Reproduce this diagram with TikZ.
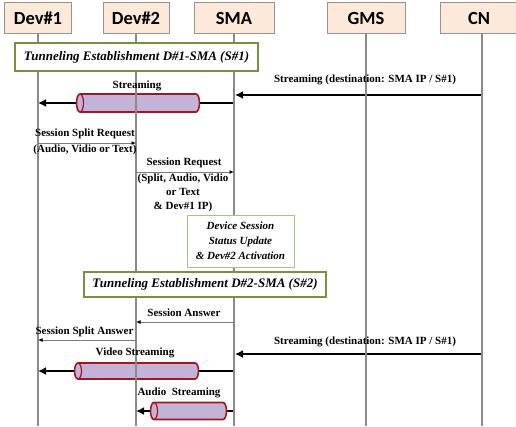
\documentclass[tikz,border=0pt]{standalone}
\usepackage{fontspec}
\setmainfont{Liberation Serif}
\newfontfamily\headfont{Carlito}
\usetikzlibrary{arrows.meta}

\definecolor{headfill}{HTML}{FDE9D9}
\definecolor{headdraw}{HTML}{9C918C}
\definecolor{tunnelgreen}{HTML}{76923C}
\definecolor{notegreen}{HTML}{A8C280}
\definecolor{pipefill}{HTML}{C4B3D8}
\definecolor{pipedraw}{HTML}{A3161B}
\definecolor{lifegray}{HTML}{8A8A8A}

\tikzset{
  header/.style={draw=headdraw, fill=headfill, line width=0.8pt,
    minimum height=31pt, inner sep=0pt,
    font=\headfont\fontsize{18.5}{20}\selectfont\bfseries},
  lifeline/.style={draw=lifegray, line width=1.1pt},
  tunnel/.style={draw=tunnelgreen, fill=white, line width=2pt, inner sep=0pt,
    font=\fontsize{13}{15}\selectfont\bfseries\itshape},
  note/.style={draw=notegreen, fill=white, line width=1pt, inner sep=0pt,
    align=center, font=\fontsize{11}{15}\selectfont\bfseries\itshape},
  msg/.style={font=\fontsize{11}{14}\selectfont\bfseries, inner sep=0pt, align=center},
  thinarrow/.style={draw=lifegray!90!black, line width=0.9pt,
    -{Latex[length=4.5pt,width=4pt,color=black]}},
  thickarrow/.style={draw=black, line width=2.4pt,
    -{Latex[length=8pt,width=8pt]}},
  pipe/.style={fill=pipefill, draw=pipedraw, line width=1.6pt},
}

% horizontal pipe: left x, right x, centre y, half height
\newcommand\pipebody[4]{%
  \filldraw[pipe] (#1,#3-#4) -- (#2,#3-#4)
    arc[start angle=-90,end angle=90,x radius=3.5,y radius=#4]
    -- (#1,#3+#4)
    arc[start angle=90,end angle=270,x radius=3.5,y radius=#4] -- cycle;
  \draw[pipedraw, line width=1.2pt] (#1,#3+#4)
    arc[start angle=90,end angle=-90,x radius=3.5,y radius=#4];
}

\begin{document}
\begin{tikzpicture}[x=1pt,y=-1pt]
\useasboundingbox (0,0) rectangle (516,426);

% participants
\node[header, minimum width=67pt] (dev1) at (38,18) {Dev\#1};
\node[header, minimum width=66pt] (dev2) at (136,18) {Dev\#2};
\node[header, minimum width=80pt] (sma)  at (234,18) {SMA};
\node[header, minimum width=78pt] (gms)  at (366,18) {GMS};
\node[header, minimum width=78pt] (cn)   at (479,18) {CN};

% lifeline feet
\coordinate (L1) at (38,426);
\coordinate (L2) at (136,426);
\coordinate (L3) at (234,426);
\coordinate (L4) at (366,426);
\coordinate (L5) at (482,426);

% streaming to Dev#1 over tunnel S#1
\draw[thickarrow] (L3 |- 0,103) -- (L1 |- 0,103);
\pipebody{80}{196}{103}{9}
\draw[thickarrow] (L5 |- 0,95) -- ([xshift=1pt]L3 |- 0,95);

% video and audio streaming after the split
\draw[thickarrow] (L3 |- 0,371) -- (L1 |- 0,371);
\pipebody{78}{195}{371}{8}
\draw[thickarrow] (L3 |- 0,411) -- (L2 |- 0,411);
\pipebody{154}{223}{411}{8.5}
\draw[thickarrow] (L5 |- 0,354) -- ([xshift=1pt]L3 |- 0,354);

% lifelines
\draw[lifeline] (L1 |- dev1.south) -- (L1);
\draw[lifeline] (L2 |- dev2.south) -- (L2);
\draw[lifeline] (L3 |- sma.south) -- (L3);
\draw[lifeline] (L4 |- gms.south) -- (L4);
\draw[lifeline] (L5 |- cn.south) -- (L5);

% signalling messages
\draw[thinarrow] (L1 |- 0,143) -- (L2 |- 0,143);
\draw[thinarrow] (L2 |- 0,172) -- (L3 |- 0,172);
\draw[thinarrow] (L3 |- 0,322) -- (L2 |- 0,322);
\draw[thinarrow] (L2 |- 0,340) -- (L1 |- 0,340);

% tunnels and processing note
\node[tunnel, minimum width=243pt, minimum height=28pt] (t1) at (136.5,57)
  {Tunneling Establishment D\#1-SMA (S\#1)};
\node[note, minimum width=107pt, minimum height=52pt] (upd) at (240.5,241)
  {Device Session\\Status Update\\\& Dev\#2 Activation};
\node[tunnel, minimum width=242pt, minimum height=25pt] (t2) at (205,284.5)
  {Tunneling Establishment D\#2-SMA (S\#2)};

% labels
\node[msg] (lstream) at (137,86) {Streaming};
\node[msg] (ldest1) at (365,80) {Streaming (destination: SMA IP / S\#1)};
\node[msg] (lsplit) at (85,134) {Session Split Request};
\node[msg] (lsplit2) at (85,150) {(Audio, Vidio or Text)};
\node[msg] (lreq) at (184,163) {Session Request};
\node[msg, anchor=north] (lreq2) at (183,174) {(Split, Audio, Vidio\\or Text\\\& Dev\#1 IP)};
\node[msg] (lans) at (184,313) {Session Answer};
\node[msg] (lsans) at (84.5,332) {Session Split Answer};
\node[msg] (ldest2) at (365,342) {Streaming (destination: SMA IP / S\#1)};
\node[msg] (lvideo) at (135,353) {Video Streaming};
\node[msg] (laudio) at (179,393) {Audio\ \ Streaming};
\end{tikzpicture}
\end{document}
